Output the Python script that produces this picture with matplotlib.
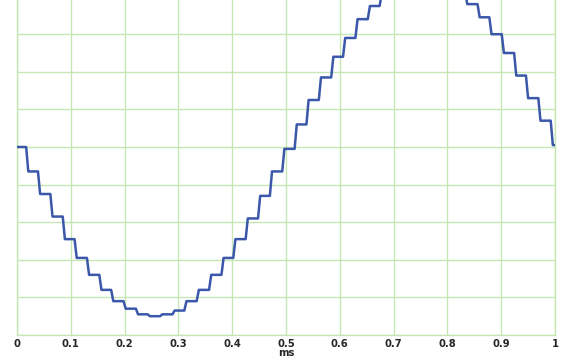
import numpy as np
import matplotlib.pyplot as plt

step_start_ms = [0.000, 0.017, 0.039, 0.062, 0.085, 0.107, 0.130, 0.153, 0.175, 0.198,
                 0.221, 0.243, 0.266, 0.289, 0.311, 0.334, 0.357, 0.380, 0.402, 0.425,
                 0.448, 0.470, 0.493, 0.516, 0.538, 0.561, 0.584, 0.606, 0.629, 0.652,
                 0.674, 0.697, 0.720, 0.742, 0.765, 0.788, 0.810, 0.833, 0.856, 0.878,
                 0.901, 0.924, 0.946, 0.969, 0.992]
step_level = [0.00, -0.13, -0.25, -0.37, -0.49, -0.59, -0.68, -0.76, -0.82, -0.86,
              -0.89, -0.90, -0.89, -0.87, -0.82, -0.76, -0.68, -0.59, -0.49, -0.38,
              -0.26, -0.13, -0.01, 0.12, 0.25, 0.37, 0.48, 0.58, 0.68, 0.75,
              0.82, 0.86, 0.89, 0.90, 0.89, 0.87, 0.82, 0.76, 0.69, 0.60,
              0.50, 0.38, 0.26, 0.14, 0.01]
end_ms = 1.0

x_ticks = [0, 0.1, 0.2, 0.3, 0.4, 0.5, 0.6, 0.7, 0.8, 0.9, 1]
x_tick_labels = ['0', '0.1', '0.2', '0.3', '0.4', '0.5', '0.6', '0.7', '0.8', '0.9', '1']

# build the held signal with short sloped transitions
ramp = 0.004
xs, ys = [], []
for i, (t, v) in enumerate(zip(step_start_ms, step_level)):
    if i == 0:
        xs.append(t)
    else:
        xs.append(t + ramp)
    ys.append(v)
    t_next = step_start_ms[i + 1] if i + 1 < len(step_start_ms) else end_ms
    xs.append(t_next)
    ys.append(v)

grid_col = '#c6e6b6'
txt_col = '#262626'

fig = plt.figure(figsize=(5.69, 3.59), dpi=100)
ax = fig.add_axes([17 / 569, 24 / 359, 538 / 569, 376 / 359])

ax.plot(xs, ys, color='#3a57aa', lw=1.8, solid_capstyle='round', solid_joinstyle='round', zorder=3)

ax.set_xlim(0, 1)
ax.set_ylim(-1, 1)
ax.set_xticks(x_ticks)
ax.set_xticklabels(x_tick_labels, fontsize=7.2, fontweight='bold', color=txt_col,
                   family='DejaVu Sans')
ax.set_yticks(np.arange(-1, 1.01, 0.2))
ax.set_yticklabels([])
ax.tick_params(length=0, pad=3)
ax.grid(True, color=grid_col, lw=1.0)
for s in ax.spines.values():
    s.set_color(grid_col)
    s.set_linewidth(1.0)

ax.set_xlabel('ms', fontsize=7.2, fontweight='bold', color=txt_col,
              family='DejaVu Sans', labelpad=-1)

fig.savefig('out.png', dpi=100)
